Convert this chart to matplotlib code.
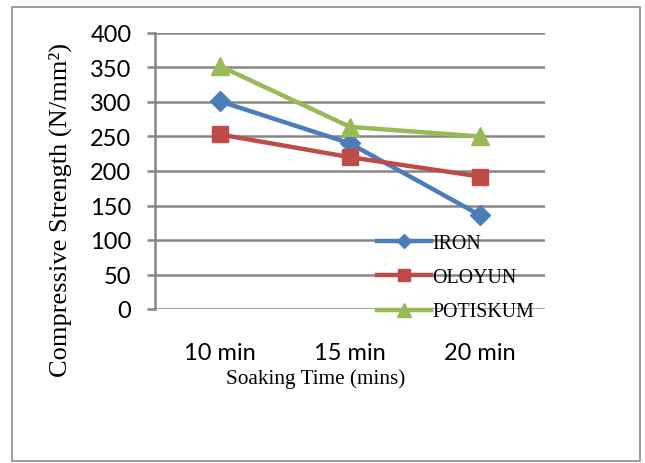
import matplotlib
matplotlib.use("Agg")
import matplotlib.pyplot as plt
from matplotlib.patches import Rectangle

categories = ["10 min", "15 min", "20 min"]
iron = [301, 240, 136]
oloyun = [253, 220, 192]
potiskum = [352, 264, 250]
y_ticks = [0, 50, 100, 150, 200, 250, 300, 350, 400]

W, H = 645, 464
fig = plt.figure(figsize=(W / 100, H / 100), dpi=100)
fig.patch.set_facecolor("white")

# outer frame
fig.add_artist(Rectangle((12 / W, 1 - 462 / H), (640 - 12) / W, (462 - 8) / H,
                         transform=fig.transFigure, fill=False,
                         edgecolor="#8c8c8c", linewidth=1.2))

ax = fig.add_axes([155 / W, 1 - 310 / H, 390 / W, 276 / H])
x = list(range(len(categories)))

ax.set_ylim(0, 400)
ax.set_xlim(-0.5, 2.5)
ax.set_yticks(y_ticks)
ax.yaxis.grid(True, color="#868686", linewidth=1.8)
ax.set_axisbelow(True)
for s in ["top", "right", "bottom"]:
    ax.spines[s].set_visible(False)
ax.spines["left"].set_color("#868686")
ax.spines["left"].set_linewidth(1.8)

lw = 3.2
ax.plot(x, iron, color="#4A7EBB", linewidth=lw, marker="D", markersize=10, label="IRON")
ax.plot(x, oloyun, color="#BE4B48", linewidth=lw, marker="s", markersize=12, label="OLOYUN")
ax.plot(x, potiskum, color="#98B954", linewidth=lw, marker="^", markersize=13, label="POTISKUM")

ax.set_xticks(x)
ax.set_xticklabels(categories, fontfamily="Lato", fontsize=17)
ax.tick_params(axis="x", length=0, pad=24)
ax.set_yticklabels([str(v) for v in y_ticks], fontfamily="Lato", fontsize=17)
ax.tick_params(axis="y", length=6, width=1.8, color="#868686", pad=11)

ax.set_ylabel("Compressive Strength (N/mm²)", fontfamily="Liberation Serif",
              fontsize=19)
ax.yaxis.set_label_coords((72 - 155) / 390, (310 - 210) / 276)
ax.set_xlabel("Soaking Time (mins)", fontfamily="Liberation Serif", fontsize=15.3)
ax.xaxis.set_label_coords((316 - 155) / 390, (310 - 369) / 276)

leg = ax.legend(loc="center left", bbox_to_anchor=((377 - 155) / 390, (310 - 278.5) / 276),
                frameon=False, prop={"family": "Liberation Serif", "size": 14.3},
                handlelength=2.7, handletextpad=0.1, labelspacing=0.78,
                borderpad=0, borderaxespad=0, markerscale=0.75)

fig.savefig("out.png", dpi=100, facecolor="white")
